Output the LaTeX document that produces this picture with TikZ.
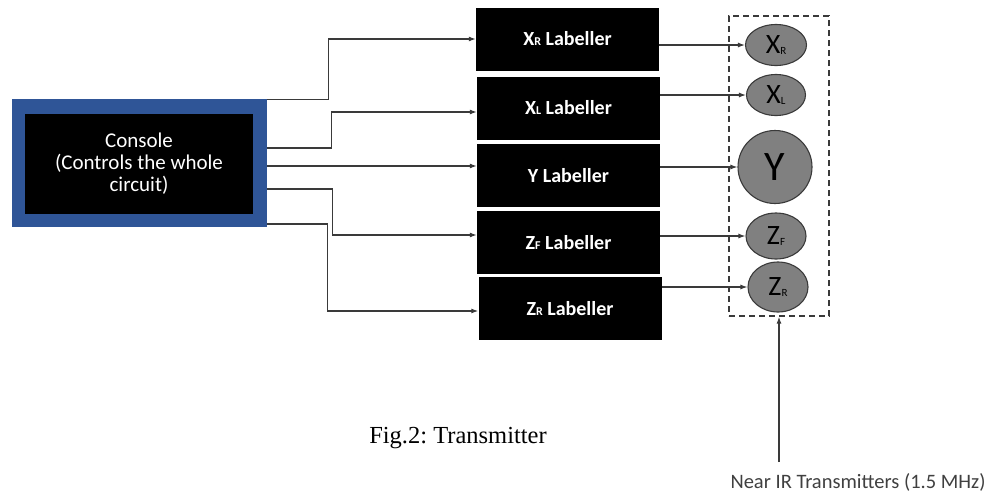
\documentclass[tikz,border=0pt]{standalone}
\usepackage{fontspec}
\setmainfont{Carlito}
\newfontfamily\capfont{Liberation Serif}
\usepackage{xcolor}
\usepackage{tikz}
\usetikzlibrary{shapes.geometric,arrows.meta,positioning,calc}
\definecolor{consoleblue}{HTML}{2F5597}
\definecolor{wiregray}{HTML}{3A3A3A}
\definecolor{sensorgray}{HTML}{808080}
\definecolor{notegray}{HTML}{404040}
\newcommand{\labsub}[2]{#1{\fontsize{12}{12}\selectfont #2}}
\newcommand{\sensub}[2]{#1\raisebox{-1.5pt}{\fontsize{11}{11}\selectfont #2}}

\begin{document}
\begin{tikzpicture}[x=1pt,y=-1pt,
    labeller/.style={fill=black,text=white,minimum width=183pt,minimum height=63pt,inner sep=0pt,font=\fontsize{20}{20}\selectfont\bfseries},
    sensor/.style={ellipse,draw=wiregray,line width=1.1pt,fill=sensorgray,inner sep=0pt,font=\fontsize{28}{28}\selectfont},
    wire/.style={draw=wiregray,line width=1.2pt,-{Latex[length=7pt,width=5pt]}}]
            \useasboundingbox (0,0) rectangle (990,493);

            % Console
            \node[fill=consoleblue,minimum width=255pt,minimum height=128pt,inner sep=0pt] (console) at (139.5,163) {};
            \node[fill=black,text=white,minimum width=228pt,minimum height=100pt,inner sep=0pt,align=center,font=\fontsize{21}{22}\selectfont] (consoletxt) at (139,164) {Console\\(Controls the whole\\circuit)};

            % Labellers
            \node[labeller] (xr) at (567.5,39) {\labsub{X}{R} Labeller};
            \node[labeller] (xl) at (568.5,108) {\labsub{X}{L} Labeller};
            \node[labeller] (ylab) at (568.5,175.5) {Y Labeller};
            \node[labeller] (zf) at (568.5,242.5) {\labsub{Z}{F} Labeller};
            \node[labeller] (zr) at (570,308.5) {\labsub{Z}{R} Labeller};

            % Transmitter group
            \node[draw=wiregray,dash pattern=on 6pt off 4pt,line width=1.3pt,minimum width=100pt,minimum height=300pt,inner sep=0pt] (group) at (779,166) {};
            \node[sensor,minimum width=61pt,minimum height=41pt] (xrc) at (776,45) {\sensub{X}{R}};
            \node[sensor,minimum width=59pt,minimum height=41pt] (xlc) at (776,95) {\sensub{X}{L}};
            \node[sensor,minimum width=74pt,minimum height=73pt,font=\fontsize{42}{42}\selectfont] (yc) at (775,167) {Y};
            \node[sensor,minimum width=60pt,minimum height=46pt] (zfc) at (776,236) {\sensub{Z}{F}};
            \node[sensor,minimum width=60pt,minimum height=50pt] (zrc) at (778,287) {\sensub{Z}{R}};

            % Console to labellers
            \coordinate (ytap) at ([yshift=-3pt]console.east);
            \draw[wire] ([yshift=-1pt]console.north east) -- ++(61,0) |- (xr.west);
            \draw[wire] ([yshift=15pt]console.east) -- ++(64,0) |- ([yshift=-4pt]xl.west);
            \draw[wire] (ytap) -- (ytap -| ylab.west);
            \draw[wire] ([yshift=-26pt]console.east) -- ++(65,0) |- ([yshift=7.5pt]zf.west);
            \draw[wire] ([yshift=-61pt]console.east) -- ++(60,0) |- ([yshift=-2.5pt]zr.west);

            % Labellers to transmitters
            \draw[wire] (xrc.west -| xr.east) -- (xrc.west);
            \draw[wire] (xlc.west -| xl.east) -- (xlc.west);
            \draw[wire] (yc.west -| ylab.east) -- (yc.west);
            \draw[wire] (zfc.west -| zf.east) -- (zfc.west);
            \draw[wire] (zrc.west -| zr.east) -- (zrc.west);

            % Near IR
            \node[text=notegray,font=\fontsize{20.5}{20.5}\selectfont] (irlabel) at (858,482) {Near IR Transmitters (1.5 MHz)};
            \coordinate (irsrc) at (779,462);
            \draw[wire] (irsrc) -- (irsrc |- group.south);

            % Caption
            \node[font=\capfont\fontsize{24.5}{24.5}\selectfont] (caption) at (458,438) {Fig.2:\ Transmitter};
        \end{tikzpicture}
\end{document}
